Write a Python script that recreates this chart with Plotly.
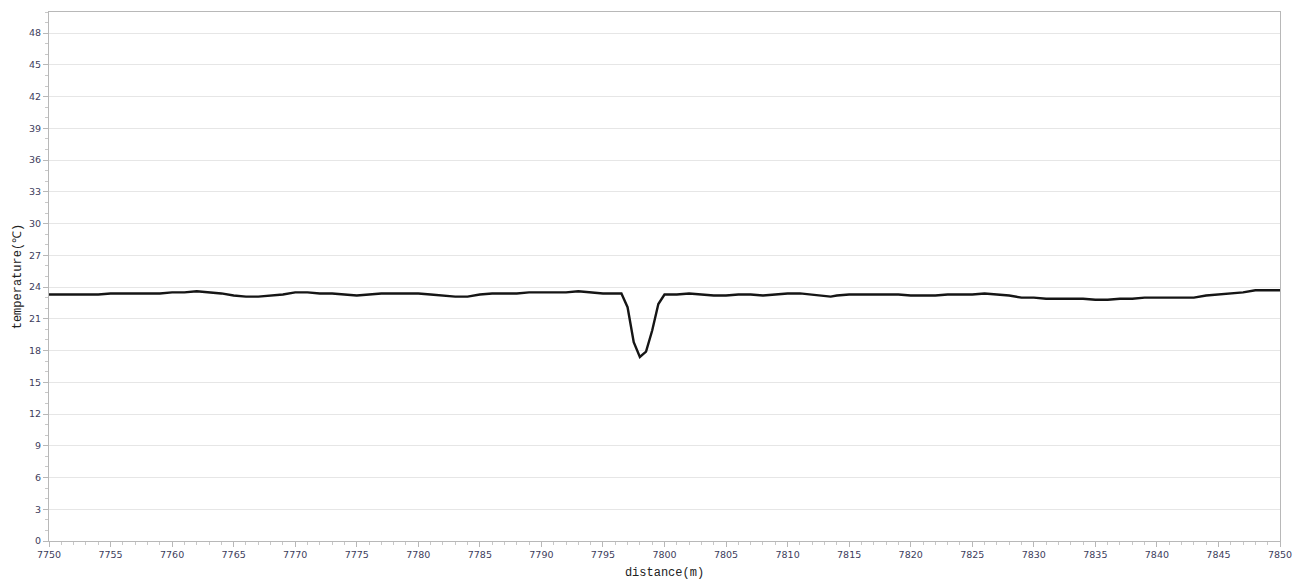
import plotly.graph_objects as go

distance = [7750, 7751, 7752, 7753, 7754, 7755, 7756, 7757, 7758, 7759,
            7760, 7761, 7762, 7763, 7764, 7765, 7766, 7767, 7768, 7769,
            7770, 7771, 7772, 7773, 7774, 7775, 7776, 7777, 7778, 7779,
            7780, 7781, 7782, 7783, 7784, 7785, 7786, 7787, 7788, 7789,
            7790, 7791, 7792, 7793, 7794, 7795, 7796, 7796.5, 7797, 7797.5,
            7798, 7798.5, 7799, 7799.5, 7800, 7801, 7802, 7803, 7804, 7805,
            7806, 7807, 7808, 7809, 7810, 7811, 7812, 7813, 7813.5, 7814,
            7815, 7816, 7817, 7818, 7819, 7820, 7821, 7822, 7823, 7824,
            7825, 7826, 7827, 7828, 7829, 7830, 7831, 7832, 7833, 7834,
            7835, 7836, 7837, 7838, 7839, 7840, 7841, 7842, 7843, 7844,
            7845, 7846, 7847, 7848, 7849, 7850]

temperature = [23.3, 23.3, 23.3, 23.3, 23.3, 23.4, 23.4, 23.4, 23.4, 23.4,
               23.5, 23.5, 23.6, 23.5, 23.4, 23.2, 23.1, 23.1, 23.2, 23.3,
               23.5, 23.5, 23.4, 23.4, 23.3, 23.2, 23.3, 23.4, 23.4, 23.4,
               23.4, 23.3, 23.2, 23.1, 23.1, 23.3, 23.4, 23.4, 23.4, 23.5,
               23.5, 23.5, 23.5, 23.6, 23.5, 23.4, 23.4, 23.4, 22.1, 18.8,
               17.4, 17.9, 19.9, 22.4, 23.3, 23.3, 23.4, 23.3, 23.2, 23.2,
               23.3, 23.3, 23.2, 23.3, 23.4, 23.4, 23.3, 23.2, 23.1, 23.2,
               23.3, 23.3, 23.3, 23.3, 23.3, 23.2, 23.2, 23.2, 23.3, 23.3,
               23.3, 23.4, 23.3, 23.2, 23.0, 23.0, 22.9, 22.9, 22.9, 22.9,
               22.8, 22.8, 22.9, 22.9, 23.0, 23.0, 23.0, 23.0, 23.0, 23.2,
               23.3, 23.4, 23.5, 23.7, 23.7, 23.7]

x_ticks = list(range(7750, 7851, 5))
y_ticks = list(range(0, 49, 3))

fig = go.Figure()
fig.add_trace(go.Scatter(
    x=distance, y=temperature, mode="lines",
    line=dict(color="#151515", width=2.4),
    hoverinfo="x+y", showlegend=False,
))

tick_font = dict(family="DejaVu Sans, Verdana, sans-serif", size=9.5, color="#3d3d5c")
title_font = dict(family="Liberation Mono, DejaVu Sans Mono, monospace", size=12, color="#222222")

fig.update_layout(
    width=1293, height=583,
    margin=dict(l=49, r=13, t=12, b=42, pad=0),
    paper_bgcolor="white", plot_bgcolor="white",
    xaxis=dict(
        range=[7750, 7850], tickvals=x_ticks, ticktext=[str(v) for v in x_ticks],
        showgrid=False, zeroline=False, automargin=False,
        showline=True, linecolor="#b8b8b8", linewidth=1, mirror=True,
        ticks="outside", ticklen=5, tickcolor="#b8b8b8",
        minor=dict(dtick=1, ticks="outside", ticklen=3, tickcolor="#c8c8c8", showgrid=False),
        tickfont=tick_font,
        title=dict(text="distance(m)", font=title_font, standoff=8),
    ),
    yaxis=dict(
        range=[0, 50], tickvals=y_ticks, ticktext=[str(v) for v in y_ticks],
        showgrid=True, gridcolor="#e6e6e6", gridwidth=1, zeroline=False, automargin=False,
        showline=True, linecolor="#b8b8b8", linewidth=1, mirror=True,
        ticks="outside", ticklen=5, tickcolor="#b8b8b8",
        minor=dict(dtick=1, ticks="outside", ticklen=3, tickcolor="#c8c8c8", showgrid=False),
        tickfont=tick_font,
        title=dict(text="temperature(℃)", font=title_font, standoff=4),
    ),
)

fig.write_html("out.html")
